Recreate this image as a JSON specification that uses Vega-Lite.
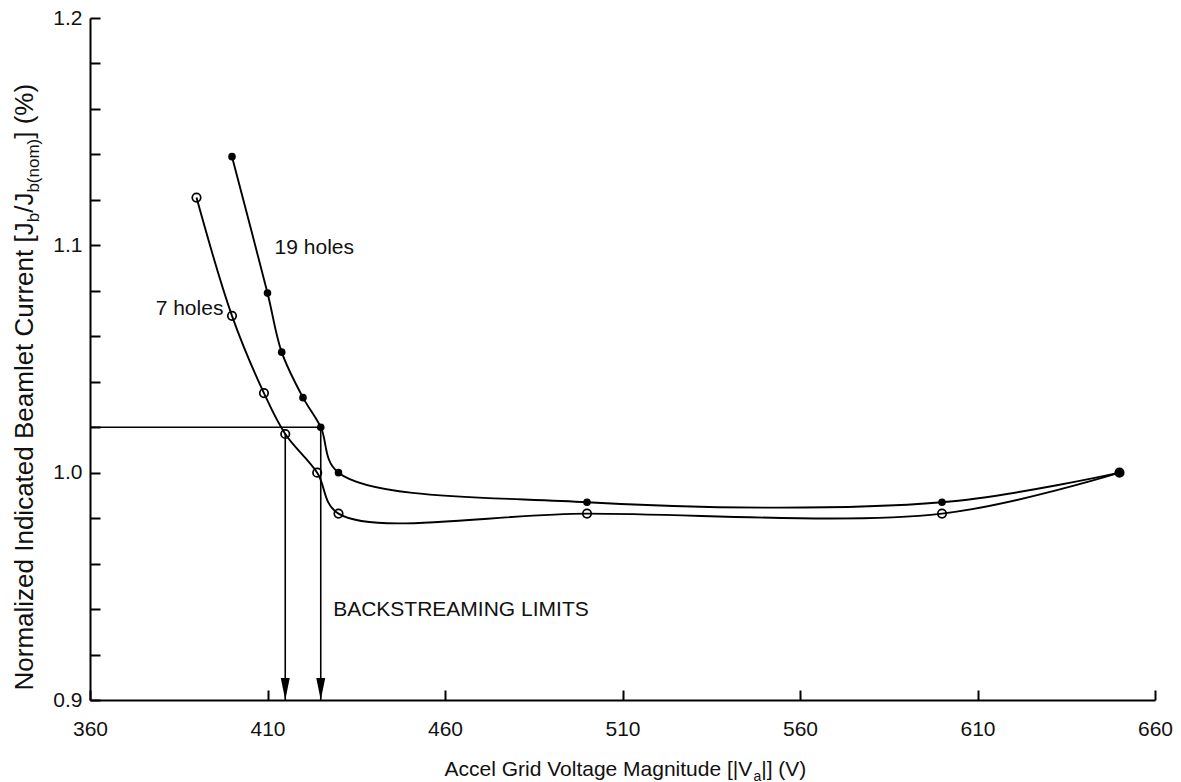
{
  "$schema": "https://vega.github.io/schema/vega-lite/v6.json",
  "width": 1065,
  "height": 682,
  "autosize": {"type": "none"},
  "padding": {"left": 90, "top": 18, "right": 26, "bottom": 82},
  "background": "white",
  "config": {
    "font": "Liberation Sans",
    "view": {"stroke": null},
    "axis": {"titleFontWeight": "normal", "titleColor": "#111", "labelColor": "#111", "grid": false}
  },
  "datasets": {
    "curves": [
      {"holes": "7 holes", "voltage": 390, "current": 1.121},
      {"holes": "7 holes", "voltage": 400, "current": 1.069},
      {"holes": "7 holes", "voltage": 409, "current": 1.035},
      {"holes": "7 holes", "voltage": 415, "current": 1.017},
      {"holes": "7 holes", "voltage": 424, "current": 1.000},
      {"holes": "7 holes", "voltage": 430, "current": 0.982},
      {"holes": "7 holes", "voltage": 500, "current": 0.982},
      {"holes": "7 holes", "voltage": 600, "current": 0.982},
      {"holes": "7 holes", "voltage": 650, "current": 1.000},
      {"holes": "19 holes", "voltage": 400, "current": 1.139},
      {"holes": "19 holes", "voltage": 410, "current": 1.079},
      {"holes": "19 holes", "voltage": 414, "current": 1.053},
      {"holes": "19 holes", "voltage": 420, "current": 1.033},
      {"holes": "19 holes", "voltage": 425, "current": 1.020},
      {"holes": "19 holes", "voltage": 430, "current": 1.000},
      {"holes": "19 holes", "voltage": 500, "current": 0.987},
      {"holes": "19 holes", "voltage": 600, "current": 0.987},
      {"holes": "19 holes", "voltage": 650, "current": 1.000}
    ],
    "limits": [
      {"holes": "7 holes", "voltage": 415, "current": 1.017, "floor": 0.9, "from": 360},
      {"holes": "19 holes", "voltage": 425, "current": 1.020, "floor": 0.9, "from": 360}
    ],
    "notes": [
      {"text": "19 holes", "voltage": 412, "current": 1.099},
      {"text": "7 holes", "voltage": 378.5, "current": 1.072},
      {"text": "BACKSTREAMING LIMITS", "voltage": 428.5, "current": 0.9395}
    ]
  },
  "resolve": {
    "scale": {"x": "shared", "y": "shared"},
    "axis": {"x": "independent", "y": "independent"}
  },
  "layer": [
    {
      "data": {"name": "curves"},
      "mark": {"type": "line", "interpolate": "catmull-rom", "color": "black", "strokeWidth": 1.9},
      "encoding": {
        "x": {
          "field": "voltage", "type": "quantitative",
          "scale": {"domain": [360, 660], "zero": false, "nice": false},
          "axis": {
            "orient": "bottom", "values": [360, 410, 460, 510, 560, 610, 660], "format": "d",
            "domainColor": "black", "domainWidth": 2, "tickColor": "black", "tickWidth": 2, "tickSize": -10,
            "labelFontSize": 21, "labelPadding": 28, "labelFlush": false, "labelOverlap": false,
            "title": "Accel Grid Voltage Magnitude [|V", "titleFontSize": 21,
            "titleAlign": "left", "titleBaseline": "alphabetic", "titleX": 354, "titleY": 75
          }
        },
        "y": {
          "field": "current", "type": "quantitative",
          "scale": {"domain": [0.9, 1.2], "zero": false, "nice": false},
          "axis": {
            "orient": "left",
            "values": [0.9, 0.92, 0.94, 0.96, 0.98, 1.0, 1.02, 1.04, 1.06, 1.08, 1.1, 1.12, 1.14, 1.16, 1.18, 1.2],
            "labelExpr": "round(datum.value * 100) % 10 == 0 ? format(datum.value, '.1f') : ''",
            "domainColor": "black", "domainWidth": 2, "tickColor": "black", "tickWidth": 2, "tickSize": -10,
            "labelFontSize": 21, "labelPadding": 18, "labelFlush": false, "labelOverlap": false,
            "title": "Normalized Indicated Beamlet Current [J", "titleFontSize": 26, "titleAngle": 270,
            "titleAlign": "left", "titleBaseline": "alphabetic", "titleX": -58, "titleY": 672
          }
        },
        "detail": {"field": "holes"}
      }
    },
    {
      "data": {"name": "curves"},
      "transform": [{"filter": "datum.holes == '7 holes'"}],
      "mark": {"type": "point", "shape": "circle", "filled": false, "stroke": "black", "strokeWidth": 1.7, "size": 72, "opacity": 1},
      "encoding": {
        "x": {
          "field": "voltage", "type": "quantitative",
          "scale": {"domain": [360, 660], "zero": false, "nice": false},
          "axis": {
            "orient": "bottom", "domain": false, "ticks": false, "labels": false,
            "title": "a", "titleFontSize": 14,
            "titleAlign": "left", "titleBaseline": "alphabetic", "titleX": 662.9, "titleY": 80
          }
        },
        "y": {
          "field": "current", "type": "quantitative",
          "scale": {"domain": [0.9, 1.2], "zero": false, "nice": false},
          "axis": {
            "orient": "left", "domain": false, "ticks": false, "labels": false,
            "title": "b", "titleFontSize": 17, "titleAngle": 270,
            "titleAlign": "left", "titleBaseline": "alphabetic", "titleX": -52, "titleY": 203.8
          }
        }
      }
    },
    {
      "data": {"name": "curves"},
      "transform": [{"filter": "datum.holes == '19 holes'"}],
      "mark": {"type": "point", "shape": "circle", "filled": true, "color": "black", "size": 58, "opacity": 1},
      "encoding": {
        "x": {
          "field": "voltage", "type": "quantitative",
          "scale": {"domain": [360, 660], "zero": false, "nice": false},
          "axis": {
            "orient": "bottom", "domain": false, "ticks": false, "labels": false,
            "title": "|] (V)", "titleFontSize": 21,
            "titleAlign": "left", "titleBaseline": "alphabetic", "titleX": 670.7, "titleY": 75
          }
        },
        "y": {
          "field": "current", "type": "quantitative",
          "scale": {"domain": [0.9, 1.2], "zero": false, "nice": false},
          "axis": {
            "orient": "left", "domain": false, "ticks": false, "labels": false,
            "title": "/J", "titleFontSize": 26, "titleAngle": 270,
            "titleAlign": "left", "titleBaseline": "alphabetic", "titleX": -58, "titleY": 194.3
          }
        }
      }
    },
    {
      "data": {"name": "limits"},
      "transform": [{"filter": "datum.holes == '19 holes'"}],
      "mark": {"type": "rule", "color": "black", "strokeWidth": 1.4},
      "encoding": {
        "x": {"field": "from", "type": "quantitative", "scale": {"domain": [360, 660], "zero": false, "nice": false}, "axis": null},
        "x2": {"field": "voltage"},
        "y": {
          "field": "current", "type": "quantitative",
          "scale": {"domain": [0.9, 1.2], "zero": false, "nice": false},
          "axis": {
            "orient": "left", "domain": false, "ticks": false, "labels": false,
            "title": "b(nom)", "titleFontSize": 17, "titleAngle": 270,
            "titleAlign": "left", "titleBaseline": "alphabetic", "titleX": -52, "titleY": 174.1
          }
        }
      }
    },
    {
      "data": {"name": "limits"},
      "mark": {"type": "rule", "color": "black", "strokeWidth": 1.6},
      "encoding": {
        "x": {"field": "voltage", "type": "quantitative", "scale": {"domain": [360, 660], "zero": false, "nice": false}, "axis": null},
        "y": {
          "field": "current", "type": "quantitative",
          "scale": {"domain": [0.9, 1.2], "zero": false, "nice": false},
          "axis": {
            "orient": "left", "domain": false, "ticks": false, "labels": false,
            "title": "] (%)", "titleFontSize": 26, "titleAngle": 270,
            "titleAlign": "left", "titleBaseline": "alphabetic", "titleX": -58, "titleY": 120.3
          }
        },
        "y2": {"field": "floor"}
      }
    },
    {
      "data": {"name": "limits"},
      "mark": {"type": "point", "shape": "M-0.45,-2.2L0.45,-2.2L0,0Z", "filled": true, "color": "black", "size": 400, "opacity": 1},
      "encoding": {
        "x": {"field": "voltage", "type": "quantitative", "scale": {"domain": [360, 660], "zero": false, "nice": false}, "axis": null},
        "y": {"field": "floor", "type": "quantitative", "scale": {"domain": [0.9, 1.2], "zero": false, "nice": false}, "axis": null}
      }
    },
    {
      "data": {"name": "notes"},
      "mark": {"type": "text", "align": "left", "baseline": "middle", "fontSize": 21, "font": "Liberation Sans", "color": "#111"},
      "encoding": {
        "x": {"field": "voltage", "type": "quantitative", "scale": {"domain": [360, 660], "zero": false, "nice": false}, "axis": null},
        "y": {"field": "current", "type": "quantitative", "scale": {"domain": [0.9, 1.2], "zero": false, "nice": false}, "axis": null},
        "text": {"field": "text"}
      }
    }
  ]
}
